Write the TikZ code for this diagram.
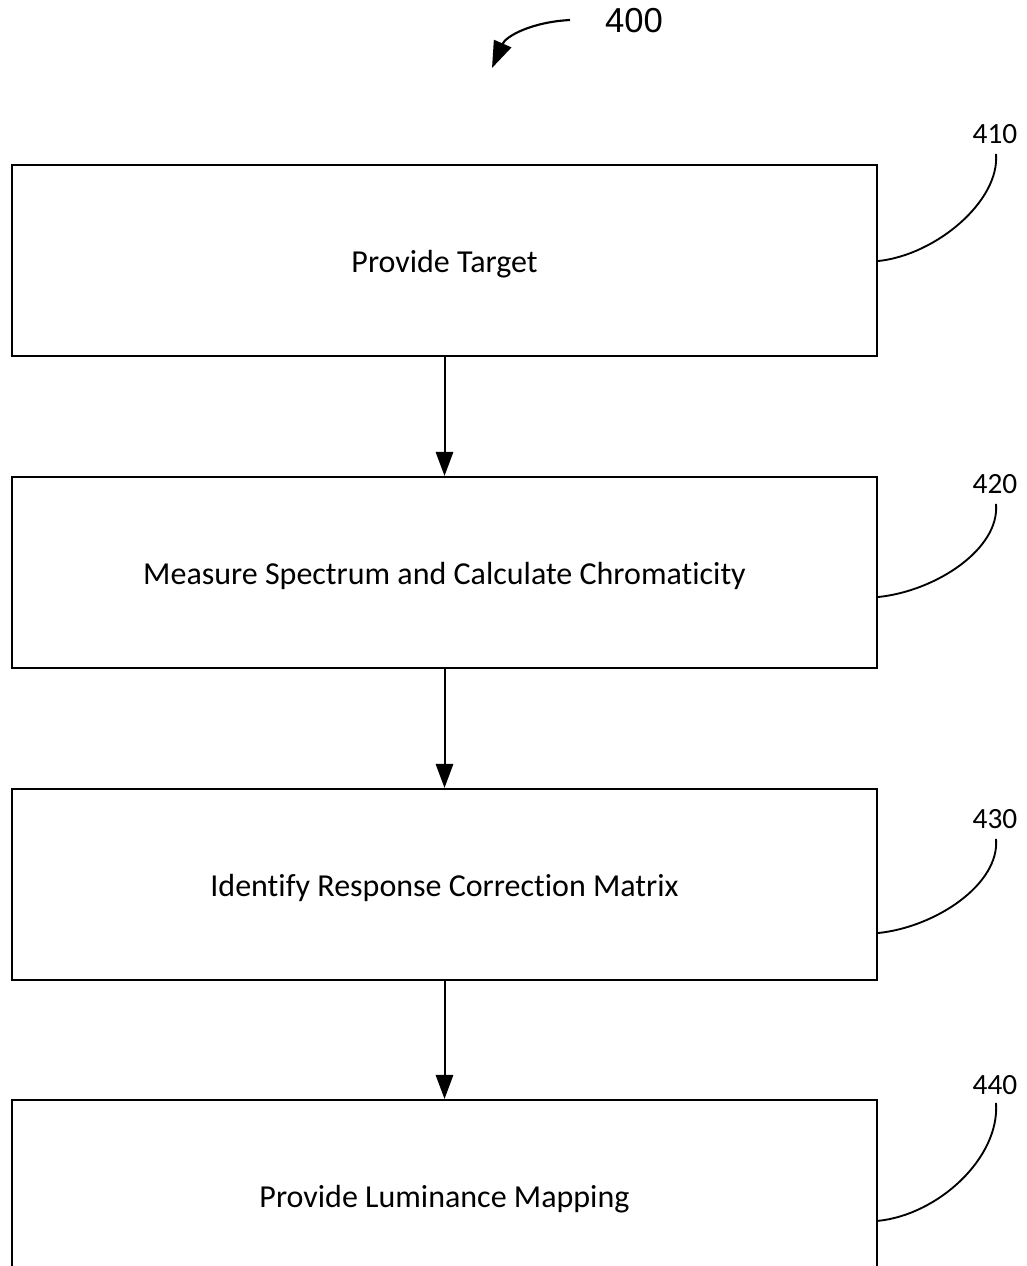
\documentclass[tikz,border=0pt]{standalone}
\usepackage{fontspec}
\setmainfont[Ligatures={NoCommon,NoRare}]{Carlito}
\newfontfamily\figfont{Liberation Sans}
\usetikzlibrary{arrows.meta}
\begin{document}
\begin{tikzpicture}[x=0.75pt,y=-0.75pt,
  stepbox/.style={draw, line width=1.6pt, minimum width=648.75pt, minimum height=143.25pt, inner sep=0pt, text height=20pt, text depth=2.5pt, font=\fontsize{24}{28}\selectfont},
  reflabel/.style={inner sep=0pt, font=\fontsize{22}{26}\selectfont},
  leader/.style={line width=1.4pt},
  flow/.style={line width=1.5pt, -{Triangle[length=18pt,width=13pt]}}]
\useasboundingbox (0,0) rectangle (1027,1266);
\clip (0,0) rectangle (1027,1266);
\fill[white] (0,0) rectangle (1027,1266);
% boxes
\node[stepbox] (b1) at (444.5,260.5) {Provide Target};
\node[stepbox] (b2) at (444.5,572.5) {Measure Spectrum and Calculate Chromaticity};
\node[stepbox] (b3) at (444.5,884.5) {Identify Response Correction Matrix};
\node[stepbox] (b4) at (444.5,1195.5) {Provide Luminance Mapping};
% flow arrows
\draw[flow] (b1.south) -- (b2.north);
\draw[flow] (b2.south) -- (b3.north);
\draw[flow] (b3.south) -- (b4.north);
% reference labels
\node[reflabel] (l1) at (995,134) {410};
\node[reflabel] (l2) at (995,484) {420};
\node[reflabel] (l3) at (995,819) {430};
\node[reflabel] (l4) at (995,1085) {440};
\coordinate (s1) at ([yshift=-0.4pt]b1.east);
\coordinate (s2) at ([yshift=-18.4pt]b2.east);
\coordinate (s3) at ([yshift=-36.4pt]b3.east);
\coordinate (s4) at ([yshift=-19pt]b4.east);
\draw[leader] (s1) .. controls +(58,-6) and +(4,47) .. ([xshift=0.75pt,yshift=-7.5pt]l1.south);
\draw[leader] (s2) .. controls +(58,-6) and +(4,45) .. ([xshift=0.75pt,yshift=-7.5pt]l2.south);
\draw[leader] (s3) .. controls +(58,-6) and +(4,45) .. ([xshift=0.75pt,yshift=-7.5pt]l3.south);
\draw[leader] (s4) .. controls +(60,-6) and +(4,55) .. ([xshift=0.75pt,yshift=-6pt]l4.south);
% figure number
\node[inner sep=0pt, font=\figfont\fontsize{26}{30}\selectfont] (n400) at (634,21) {400};
\coordinate (a400) at (570,20);
\draw[line width=1.6pt, -{Triangle[length=20pt,width=14pt]}] (a400) .. controls (532,22) and (506,36) .. (492,68);
\end{tikzpicture}
\end{document}
